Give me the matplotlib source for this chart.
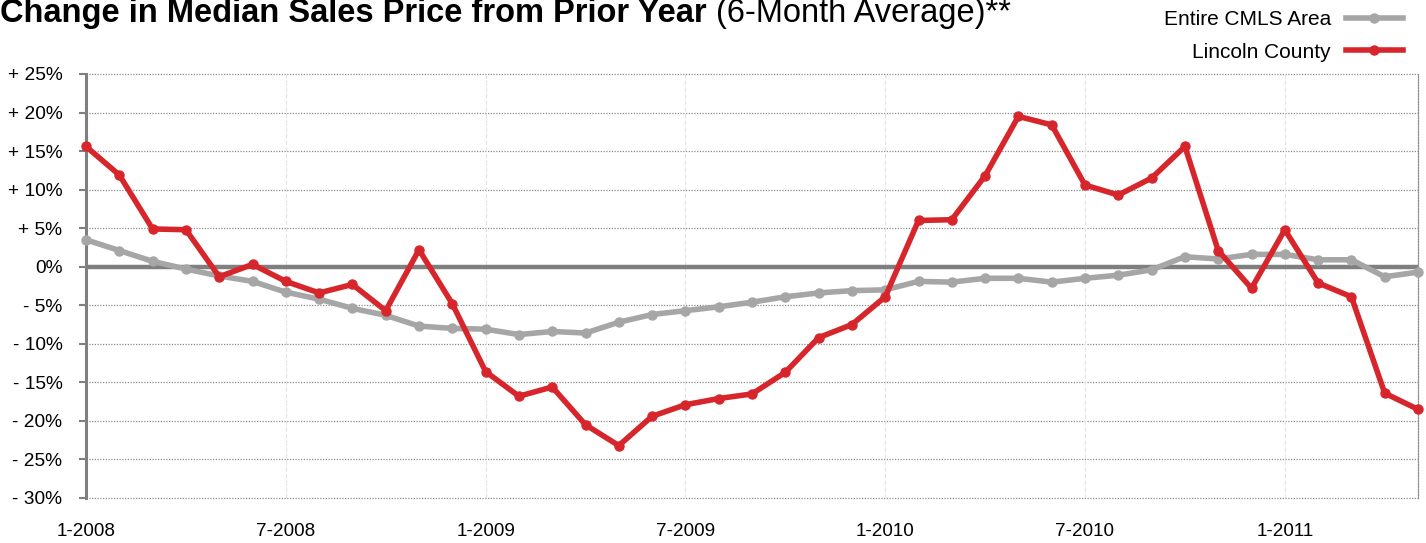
import numpy as np
import matplotlib
matplotlib.use("Agg")
import matplotlib.pyplot as plt

# --- Daten (monatlich 1-2008 bis 5-2011) ---
cmls_area = [3.5, 2.1, 0.7, -0.3, -1.2, -1.9, -3.3, -4.2, -5.4, -6.3,
             -7.7, -8.0, -8.1, -8.8, -8.4, -8.6, -7.2, -6.2, -5.7, -5.2,
             -4.6, -3.9, -3.4, -3.1, -3.0, -1.9, -2.0, -1.5, -1.5, -2.0,
             -1.5, -1.1, -0.4, 1.3, 1.0, 1.6, 1.6, 0.9, 0.9, -1.3,
             -0.7]
lincoln = [15.6, 11.9, 4.9, 4.8, -1.3, 0.3, -1.9, -3.4, -2.3, -5.7,
           2.2, -4.8, -13.6, -16.8, -15.6, -20.5, -23.2, -19.4, -17.9, -17.1,
           -16.5, -13.7, -9.2, -7.5, -3.9, 6.0, 6.1, 11.8, 19.5, 18.4,
           10.6, 9.3, 11.5, 15.6, 2.1, -2.8, 4.8, -2.1, -3.9, -16.4,
           -18.5]
tick_months = [0, 6, 12, 18, 24, 30, 36]
tick_labels = ["1-2008", "7-2008", "1-2009", "7-2009", "1-2010", "7-2010", "1-2011"]
y_ticks = [25, 20, 15, 10, 5, 0, -5, -10, -15, -20, -25, -30]
y_labels = ["+ 25%", "+ 20%", "+ 15%", "+ 10%", "+ 5%", "0%",
            "- 5%", "- 10%", "- 15%", "- 20%", "- 25%", "- 30%"]

RED = "#D7262B"
GRAY = "#A6A6A6"
AXIS_GRAY = "#7F7F7F"

plt.rcParams["font.family"] = ["Liberation Sans", "DejaVu Sans"]

fig = plt.figure(figsize=(14.26, 5.43), dpi=100)
ax = fig.add_axes([86 / 1426, 1 - 498 / 543, (1418 - 86) / 1426, (498 - 74) / 543])

x = np.arange(len(lincoln))

# Gitterlinien
for yv in y_ticks:
    if yv != 0:
        ax.axhline(yv, color="#8C8C8C", lw=0.9, ls=(0, (1, 1.2)), zorder=1, clip_on=False)
for xv in tick_months:
    ax.axvline(xv, color="#E3E3E3", lw=0.8, ls=(0, (4, 2)), zorder=1)
ax.axhline(0, color=AXIS_GRAY, lw=3.2, zorder=2)

ax.plot(x, cmls_area, color=GRAY, lw=4.0, marker="o", ms=6.5,
        solid_joinstyle="round", label="Entire CMLS Area", zorder=3, clip_on=False)
ax.plot(x, lincoln, color=RED, lw=4.0, marker="o", ms=6.5,
        solid_joinstyle="round", label="Lincoln County", zorder=4, clip_on=False)

ax.set_xlim(0, 40)
ax.set_ylim(-30, 25)
ax.set_yticks(y_ticks)
ax.set_yticklabels(y_labels, fontsize=13.8)
ax.set_xticks(tick_months)
ax.set_xticklabels(tick_labels, fontsize=13.6)
ax.tick_params(axis="y", length=5, width=1.5, color=AXIS_GRAY, pad=12)
ax.tick_params(axis="x", length=0, pad=18)

for side in ["top", "bottom"]:
    ax.spines[side].set_visible(False)
ax.spines["left"].set_color(AXIS_GRAY)
ax.spines["left"].set_linewidth(2.2)
ax.spines["right"].set_color("#8C8C8C")
ax.spines["right"].set_linewidth(0.9)
ax.spines["right"].set_linestyle((0, (1, 1.2)))

# Legende oben rechts
leg = fig.legend(loc="upper right", bbox_to_anchor=(1403 / 1426, 1 - 10 / 543),
                 frameon=False, fontsize=15, markerfirst=False, handlelength=2.75,
                 handletextpad=0.7, labelspacing=0.65, borderpad=0, borderaxespad=0)

# Titel (oben leicht angeschnitten wie im Original)
title_y = 1 - 22 / 543
t1 = fig.text(0, title_y, "Change in Median Sales Price from Prior Year ",
              fontsize=23.5, fontweight="bold", va="baseline", ha="left")
fig.canvas.draw()
bb = t1.get_window_extent()
fig.text(bb.x1 / fig.bbox.width, title_y, "(6-Month Average)**",
         fontsize=23.5, va="baseline", ha="left")

fig.savefig("out.png", dpi=100)
